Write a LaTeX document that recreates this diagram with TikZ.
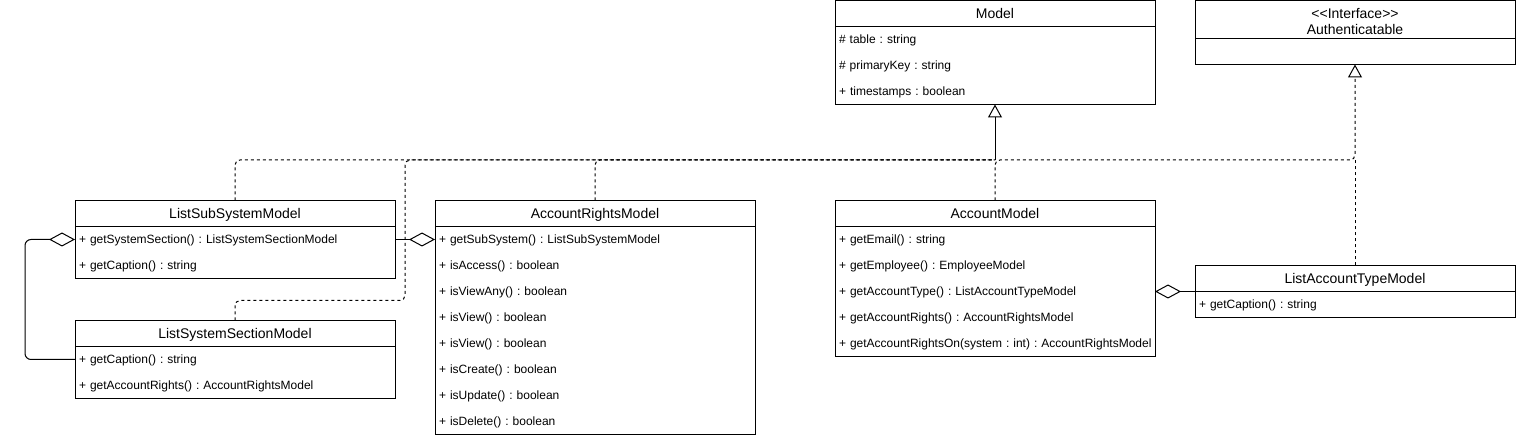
\documentclass[tikz,border=0pt]{standalone}
\usepackage{fontspec}
\setmainfont{Liberation Sans}
\usetikzlibrary{positioning, arrows.meta}
\frenchspacing
\hyphenpenalty=10000

\newcommand{\mrow}[1]{\rule[-8.8pt]{0pt}{26pt}\mbox{#1}}

\tikzset{
  classbox/.style={draw, rectangle, line width=1pt, outer sep=0pt, inner sep=0pt, minimum width=320pt, minimum height=26pt, font=\fontsize{14}{16}\selectfont},
  classname/.style={classbox, text height=10pt, text depth=0pt},
  members/.style={draw, rectangle, line width=1pt, outer sep=0pt, text width=312pt, inner xsep=4pt, inner ysep=0pt, minimum height=26pt, align=left, font=\fontsize{12}{26}\selectfont},
  dline/.style={line width=1pt, dash pattern=on 3pt off 3pt, rounded corners=5pt},
  inherit/.style={-{Triangle[open, length=13pt, width=14pt]}},
  aggr/.style={line width=1pt, rounded corners=6pt, -{Diamond[open, length=26pt, width=14pt]}}
}

\begin{document}
\begin{tikzpicture}[x=1pt, y=-1pt]
    \useasboundingbox (0,0) rectangle (1516,438);

    % Nodes
    \node (model) [classname, anchor=north west] at (835,0.5) {Model};
    \node (modelbody) [members, below=0pt of model] {\mrow{\# table : string}\\\mrow{\# primaryKey : string}\\\mrow{+ timestamps : boolean}};

    \node (auth) [classbox, align=center, minimum height=38pt, font=\fontsize{14}{15}\selectfont, anchor=north west] at (1195,0.5) {\rule{0pt}{15pt}<\kern0pt<Interface>\kern0pt>\\\rule{0pt}{15pt}Authenticatable};
    \node (authbody) [members, below=0pt of auth] {};

    \node (lssm) [classname, anchor=north west] at (75,200.5) {ListSubSystemModel};
    \node (lssmbody) [members, below=0pt of lssm] {\mrow{+ getSystemSection() : ListSystemSectionModel}\\\mrow{+ getCaption() : string}};

    \node (lssec) [classname, below=42pt of lssmbody] {ListSystemSectionModel};
    \node (lssecbody) [members, below=0pt of lssec] {\mrow{+ getCaption() : string}\\\mrow{+ getAccountRights() : AccountRightsModel}};

    \node (arm) [classname, right=40pt of lssm] {AccountRightsModel};
    \node (armbody) [members, below=0pt of arm] {\mrow{+ getSubSystem() : ListSubSystemModel}\\\mrow{+ isAccess() : boolean}\\\mrow{+ isViewAny() : boolean}\\\mrow{+ isView() : boolean}\\\mrow{+ isView() : boolean}\\\mrow{+ isCreate() : boolean}\\\mrow{+ isUpdate() : boolean}\\\mrow{+ isDelete() : boolean}};

    \node (am) [classname, right=80pt of arm] {AccountModel};
    \node (ambody) [members, below=0pt of am] {\mrow{+ getEmail() : string}\\\mrow{+ getEmployee() : EmployeeModel}\\\mrow{+ getAccountType() : ListAccountTypeModel}\\\mrow{+ getAccountRights() : AccountRightsModel}\\\mrow{+ getAccountRightsOn(system : int) : AccountRightsModel}};

    \node (latm) [classname, anchor=north west] at (1195,265.5) {ListAccountTypeModel};
    \node (latmbody) [members, below=0pt of latm] {\mrow{+ getCaption() : string}};

    \coordinate (jm) at (995,160);
    \coordinate (ja) at (1355,160);
    \coordinate (jl) at (405,160);

    % Edges
    \draw[dline] (lssm.north) |- (jm);
    \draw[dline] (lssec.north) -- ++(0,-20) -| (jl) -- (jm);
    \draw[dline] (arm.north) |- (jm);
    \draw[line width=1pt, inherit] (jm) -- (modelbody.south);
    \draw[dline, inherit] (am.north) |- (ja) -- (authbody.south);
    \draw[dline] (latm.north) -- (ja);

    \draw[aggr] ([yshift=-13pt]lssecbody.north west) -- ++(-50,0) |- ([yshift=-13pt]lssmbody.north west);
    \draw[aggr] ([yshift=-13pt]lssmbody.north east) -- ([yshift=-13pt]armbody.north west);
    \draw[aggr] (latmbody.north west) -- (latmbody.north west -| ambody.east);
\end{tikzpicture}
\end{document}
